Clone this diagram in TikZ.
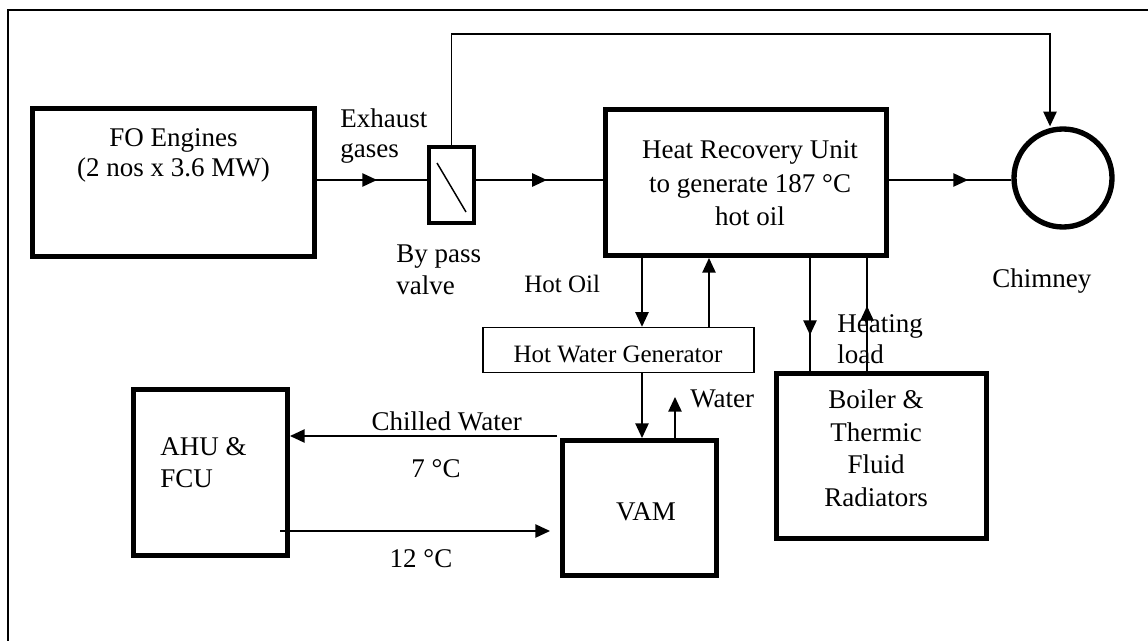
\documentclass[tikz,border=0pt]{standalone}
\usepackage{fontspec}
\setmainfont{Liberation Serif}
\usetikzlibrary{arrows.meta,decorations.markings}
\tikzset{
  box/.style={draw, line width=3.75pt, inner sep=0pt},
  thinbox/.style={draw, line width=1.1pt, inner sep=0pt},
  conn/.style={line width=1.1pt},
  endarrow/.style={-{Triangle[length=11pt,width=10pt]}},
  midarrow/.style={postaction={decorate}, decoration={markings, mark=at position #1 with {\arrow{Triangle[length=11pt,width=10pt]}}}},
  lbl/.style={font=\fontsize{20.25pt}{24pt}\selectfont, inner sep=0pt, anchor=base},
  slbl/.style={font=\fontsize{18.75pt}{22pt}\selectfont, inner sep=0pt, anchor=base},
  frame/.style={line width=1.1pt}
}
\begin{document}
\begin{tikzpicture}[x=0.75pt,y=-0.75pt]
\useasboundingbox (0,0) rectangle (1148,641);
\draw[frame] (1148,10) -- (8,10) -- (8,641);

% boxes
\node[box, minimum width=282*0.75pt, minimum height=148*0.75pt] (fo) at (173.5,182.5) {};
\node[draw, line width=2.8pt, inner sep=0pt, minimum width=45*0.75pt, minimum height=76*0.75pt] (valve) at (451.5,185) {};
\node[box, minimum width=281*0.75pt, minimum height=146*0.75pt] (hru) at (746,182.5) {};
\node[circle, draw, line width=4pt, inner sep=0pt, minimum size=98*0.75pt] (chim) at (1063,178) {};
\node[thinbox, minimum width=271*0.75pt, minimum height=45*0.75pt] (hwg) at (618.5,350) {};
\node[box, minimum width=154*0.75pt, minimum height=135*0.75pt] (vam) at (639.5,508) {};
\node[box, minimum width=154*0.75pt, minimum height=166*0.75pt] (ahu) at (210.5,472.5) {};
\node[box, minimum width=210*0.75pt, minimum height=165*0.75pt] (boiler) at (881.5,456) {};

% valve flap
\draw[conn] (437,163) -- (466,212);

% texts
\node[lbl] (foT1) at (173.5,147) {FO Engines};
\node[lbl] (foT2) at (173.5,177) {(2 nos x 3.6 MW)};
\node[lbl, anchor=base west] (exT1) at (340,128) {Exhaust};
\node[lbl, anchor=base west] (exT2) at (340,158) {gases};
\node[lbl, anchor=base west] (bpT1) at (396,263) {By pass};
\node[lbl, anchor=base west] (bpT2) at (396,295) {valve};
\node[lbl] (hruT1) at (750,159) {Heat Recovery Unit};
\node[lbl] (hruT2) at (750,193) {to generate 187 °C};
\node[lbl] (hruT3) at (750,226) {hot oil};
\node[slbl, anchor=base west] (hoT) at (524,293) {Hot Oil};
\node[slbl] (hwgT) at (618,362) {Hot Water Generator};
\node[lbl, anchor=base west] (waT) at (690,407) {Water};
\node[lbl, anchor=base east] (cwT) at (522,430) {Chilled Water};
\node[lbl] (t7T) at (436,477) {7 °C};
\node[lbl] (t12T) at (421,567) {12 °C};
\node[lbl] (vamT) at (646,520) {VAM};
\node[lbl, anchor=base west] (ahuT1) at (160,455) {AHU \&};
\node[lbl, anchor=base west] (ahuT2) at (160,487) {FCU};
\node[lbl, anchor=base west] (hlT1) at (837,332) {Heating};
\node[lbl, anchor=base west] (hlT2) at (837,363) {load};
\node[lbl] (boT1) at (876,408) {Boiler \&};
\node[lbl] (boT2) at (876,441) {Thermic};
\node[lbl] (boT3) at (876,473) {Fluid};
\node[lbl] (boT4) at (876,506) {Radiators};
\node[lbl, anchor=base west] (chT) at (992,288) {Chimney};

% helper coordinates
\coordinate (exY) at (0,180);
\coordinate (bp) at (1050,34);
\coordinate (xA) at (642,0);
\coordinate (xB) at (709,0);
\coordinate (xW) at (675,0);
\coordinate (wTop) at (675,397);
\coordinate (xH1) at (810,0);
\coordinate (xH2) at (867,0);
\coordinate (cwStart) at (557,436);
\coordinate (rStart) at (280,531);
\coordinate (rEnd) at (550,531);

% connectors
\draw[conn, midarrow=45pt] (fo.east |- exY) -- (valve.west |- exY);
\draw[conn, midarrow=53.25pt] (valve.east |- exY) -- (hru.west |- exY);
\draw[conn, midarrow=59.25pt] (hru.east |- exY) -- (chim.west |- exY);
\draw[conn, endarrow] (valve.north) |- (bp) -- (bp |- chim.north);
\draw[conn, endarrow] (xA |- hru.south) -- (xA |- hwg.north);
\draw[conn, endarrow] (xB |- hwg.north) -- (xB |- hru.south);
\draw[conn, endarrow] (xA |- hwg.south) -- (xA |- vam.north);
\draw[conn, endarrow] (xW |- vam.north) -- (wTop);
\draw[conn, endarrow] (cwStart) -- (ahu.east |- cwStart);
\draw[conn, endarrow] (rStart) -- (rEnd);
\draw[conn, midarrow=57.75pt] (xH1 |- hru.south) -- (xH1 |- boiler.north);
\draw[conn, midarrow=48.75pt] (xH2 |- boiler.north) -- (xH2 |- hru.south);
\end{tikzpicture}
\end{document}
